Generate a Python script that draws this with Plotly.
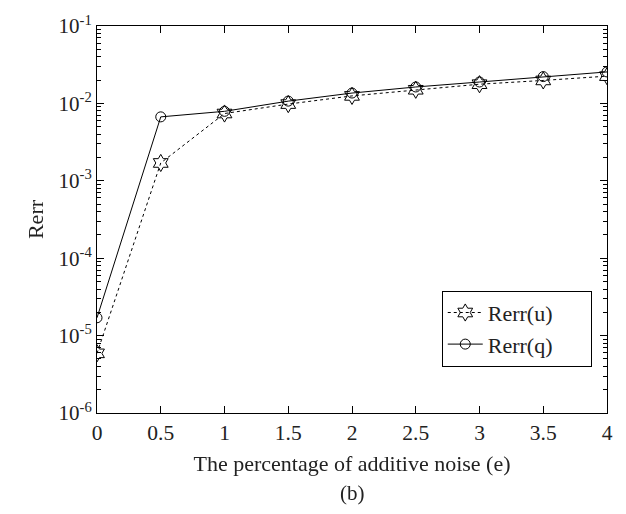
import plotly.graph_objects as go

# Noise level (%) and relative errors of the reconstructed u and q
noise = [0, 0.5, 1, 1.5, 2, 2.5, 3, 3.5, 4]
rerr_u = [5.9e-6, 1.7e-3, 7.4e-3, 9.8e-3, 1.25e-2, 1.5e-2, 1.77e-2, 1.98e-2, 2.25e-2]
rerr_q = [1.7e-5, 6.7e-3, 7.9e-3, 1.07e-2, 1.36e-2, 1.63e-2, 1.89e-2, 2.22e-2, 2.55e-2]

x_ticks = [0, 0.5, 1, 1.5, 2, 2.5, 3, 3.5, 4]
x_labels = ["0", "0.5", "1", "1.5", "2", "2.5", "3", "3.5", "4"]
decades = [1e-6, 1e-5, 1e-4, 1e-3, 1e-2, 1e-1]
decade_labels = ["10<sup>-6</sup>", "10<sup>-5</sup>", "10<sup>-4</sup>",
                 "10<sup>-3</sup>", "10<sup>-2</sup>", "10<sup>-1</sup>"]

FONT = "Liberation Serif, Times New Roman, serif"
PAD = "\u00a0" * 6  # extra room on the right of the legend entries

# all log ticks (1..9 per decade); only the decades carry a label
y_ticks, y_labels = [], []
for e in range(-6, -1):
    for m in range(1, 10):
        v = m * 10.0 ** e
        y_ticks.append(v)
        y_labels.append(decade_labels[e + 6] if m == 1 else "")
y_ticks.append(decades[-1])
y_labels.append(decade_labels[-1])

fig = go.Figure()
fig.add_trace(go.Scatter(
    x=noise, y=rerr_u, name="Rerr(u)" + PAD, mode="lines+markers",
    line=dict(color="black", width=1, dash="dot"),
    marker=dict(symbol="hexagram-open", size=13, color="black",
                line=dict(width=1, color="black")),
))
fig.add_trace(go.Scatter(
    x=noise, y=rerr_q, name="Rerr(q)" + PAD, mode="lines+markers",
    line=dict(color="black", width=1),
    marker=dict(symbol="circle-open", size=10, color="black",
                line=dict(width=1, color="black")),
))
# transparent copy bound to the decade-tick axis so that axis gets drawn
fig.add_trace(go.Scatter(
    x=noise, y=rerr_q, yaxis="y2", mode="markers", opacity=0,
    showlegend=False, hoverinfo="skip",
))

fig.update_layout(
    width=626, height=514,
    margin=dict(l=97, r=19, t=17, b=101),
    paper_bgcolor="white", plot_bgcolor="white",
    font=dict(family=FONT, size=21, color="#222"),
    showlegend=True,
    legend=dict(
        x=0.676, y=0.316, xanchor="left", yanchor="top",
        bordercolor="black", borderwidth=1, bgcolor="white",
        font=dict(family=FONT, size=22, color="#222"),
        tracegroupgap=6, itemwidth=35,
    ),
    xaxis=dict(
        range=[0, 4], tickmode="array", tickvals=x_ticks, ticktext=x_labels,
        ticks="inside", ticklen=7, tickcolor="black", tickwidth=1,
        showline=True, linecolor="black", linewidth=1, mirror="ticks",
        showgrid=False, zeroline=False,
        tickfont=dict(size=21.5),
        title=dict(text="The percentage of additive noise (e)",
                   font=dict(family=FONT, size=22), standoff=11),
    ),
    yaxis=dict(
        type="log", range=[-6, -1], tickmode="array",
        tickvals=y_ticks, ticktext=y_labels,
        ticks="inside", ticklen=4, tickcolor="black", tickwidth=1,
        showline=True, linecolor="black", linewidth=1, mirror="ticks",
        showgrid=False, zeroline=False,
        tickfont=dict(size=21),
        title=dict(text="Rerr", font=dict(family=FONT, size=22), standoff=8),
    ),
    # overlay axis drawing the longer ticks at each decade
    yaxis2=dict(
        type="log", range=[-6, -1], overlaying="y", side="left", anchor="x",
        tickmode="array", tickvals=decades, showticklabels=False,
        ticks="inside", ticklen=7, tickcolor="black", tickwidth=1,
        showline=False, mirror="ticks", showgrid=False, zeroline=False,
    ),
)

fig.add_annotation(
    text="(b)", xref="paper", yref="paper", x=0.5, y=-0.17,
    xanchor="center", yanchor="top", showarrow=False,
    font=dict(family=FONT, size=21, color="#222"),
)

fig.write_html("out.html")
